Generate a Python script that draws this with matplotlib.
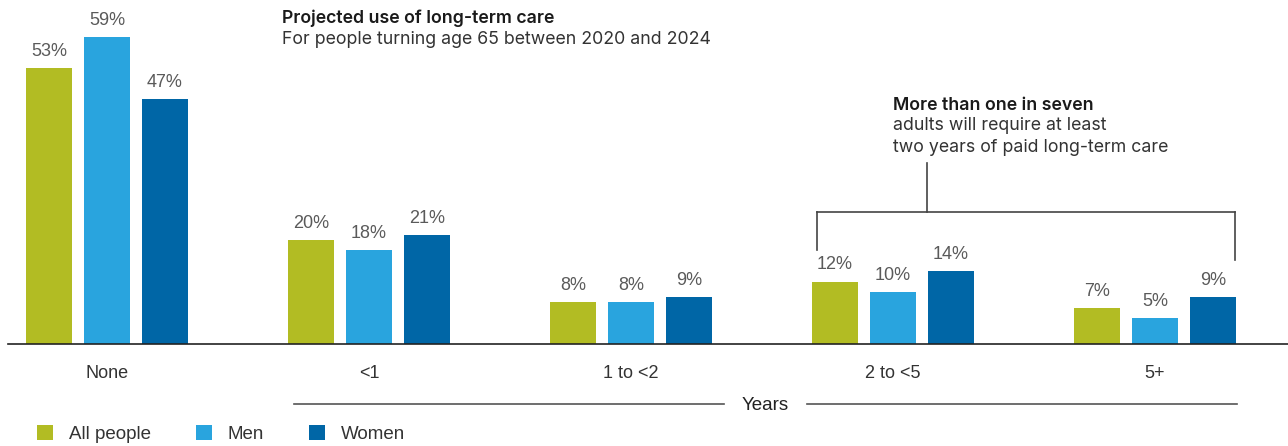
import matplotlib
matplotlib.use("Agg")
import matplotlib.pyplot as plt
from matplotlib.lines import Line2D
from matplotlib.patches import Patch
import numpy as np

categories = ["None", "<1", "1 to <2", "2 to <5", "5+"]
series_names = ["All people", "Men", "Women"]
all_people = [53, 20, 8, 12, 7]
men = [59, 18, 8, 10, 5]
women = [47, 21, 9, 14, 9]
colors = ["#B2BC23", "#29A4DE", "#0066A6"]

W, H = 1288, 446
fig = plt.figure(figsize=(W / 100, H / 100), dpi=100)

def fx(x):
    return x / W

def fy(y):
    return 1 - y / H

# axes: baseline at y=344 px, from x=8 px to right edge
ax = fig.add_axes([fx(8), fy(344), 1 - fx(8), 344 / H])
group_px = 262.0
center0 = 107.0
ax.set_xlim((8 - center0) / group_px, (W - center0) / group_px)
ppu = 307 / 59.0
ax.set_ylim(0, 344 / ppu)

x = np.arange(len(categories))
bw = 46 / group_px
off = 58 / group_px
label_font = "Liberation Sans"
for i, (vals, c) in enumerate(zip([all_people, men, women], colors)):
    xs = x + (i - 1) * off
    bars = ax.bar(xs, vals, width=bw, color=c, zorder=2)
    for xi, v in zip(xs, vals):
        ax.text(xi, v + 1.55, f"{v}%", ha="center", va="bottom", fontsize=13,
                color="#5a5a5a", family=label_font)

for s in ["top", "right", "left"]:
    ax.spines[s].set_visible(False)
ax.spines["bottom"].set_color("#222222")
ax.spines["bottom"].set_linewidth(1.2)
ax.set_yticks([])
ax.set_xticks(x)
ax.set_xticklabels(categories, fontsize=13, color="#333333", family=label_font)
ax.tick_params(axis="x", length=0, pad=15)

# bracket annotation (data coords)
def ypx(y):
    return (344 - y) / ppu

def xpx(xp):
    return (xp - center0) / group_px

bk = dict(color="#444444", linewidth=1.2, zorder=3)
ax.plot([xpx(817), xpx(1235)], [ypx(212), ypx(212)], **bk)
ax.plot([xpx(817), xpx(817)], [ypx(212), ypx(250)], **bk)
ax.plot([xpx(1235), xpx(1235)], [ypx(212), ypx(260)], **bk)
ax.plot([xpx(927), xpx(927)], [ypx(212), ypx(163)], **bk)

tfont = "Inter"
tsize = 12.75
fig.text(fx(893), fy(105), "More than one in seven", fontsize=tsize, fontweight="semibold",
         color="#1a1a1a", family=tfont, va="center", ha="left")
fig.text(fx(893), fy(126), "adults will require at least", fontsize=tsize,
         color="#333333", family=tfont, va="center", ha="left")
fig.text(fx(893), fy(147), "two years of paid long-term care", fontsize=tsize,
         color="#333333", family=tfont, va="center", ha="left")

fig.text(fx(282), fy(18), "Projected use of long-term care", fontsize=tsize, fontweight="semibold",
         color="#1a1a1a", family=tfont, va="center", ha="left")
fig.text(fx(282), fy(39), "For people turning age 65 between 2020 and 2024", fontsize=tsize,
         color="#333333", family=tfont, va="center", ha="left")

# Years axis line
yl = fy(404)
fig.add_artist(Line2D([fx(294), fx(724)], [yl, yl], transform=fig.transFigure,
                      color="#555555", linewidth=1.2))
fig.add_artist(Line2D([fx(807), fx(1237)], [yl, yl], transform=fig.transFigure,
                      color="#555555", linewidth=1.2))
fig.text(fx(765), fy(405), "Years", fontsize=13.5, color="#222222", family=label_font,
         ha="center", va="center")

handles = [Patch(facecolor=c, edgecolor="none") for c in colors]
leg = fig.legend(handles, series_names, loc="center left",
                 bbox_to_anchor=(fx(37), fy(434)), ncol=3, frameon=False,
                 prop={"family": label_font, "size": 13.5}, handlelength=0.85,
                 handleheight=0.8, handletextpad=0.85, columnspacing=2.4,
                 borderpad=0, borderaxespad=0, labelcolor="#333333")

fig.savefig("out.png", dpi=100)
